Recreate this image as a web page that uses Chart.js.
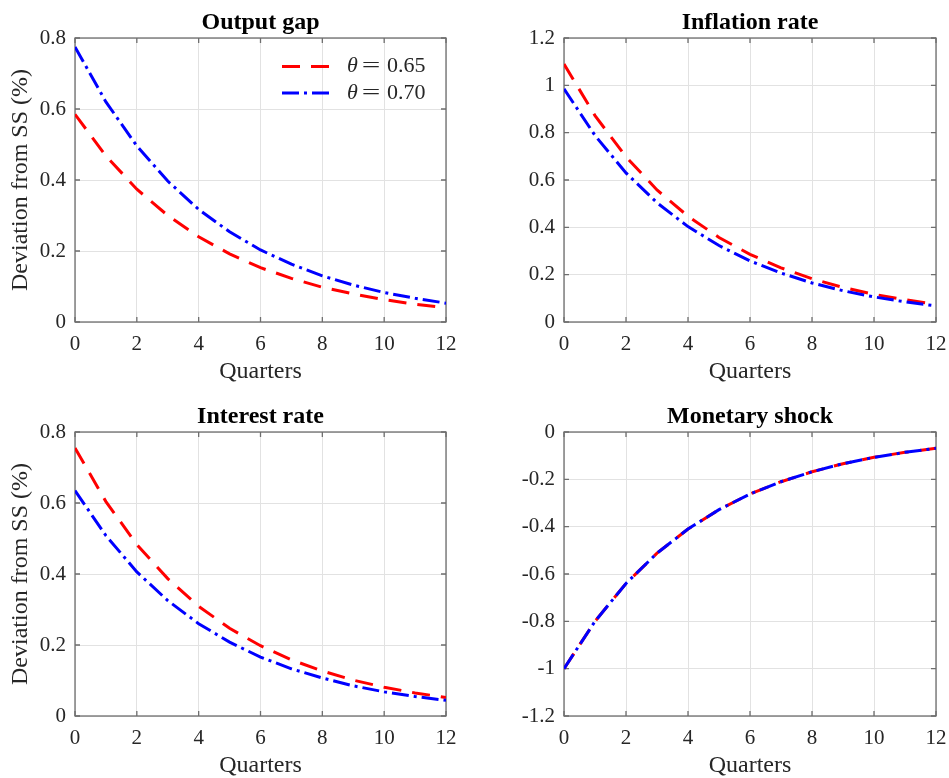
<!DOCTYPE html>
<html>
<head>
<meta charset="utf-8">
<script src="https://cdn.jsdelivr.net/npm/chart.js@4.4.1/dist/chart.umd.min.js"></script>
<style>
html,body{margin:0;padding:0;background:#fff;overflow:hidden;}
#wrap{position:relative;width:949px;height:778px;background:#fff;}
canvas{position:absolute;display:block;}
</style>
</head>
<body>
<div id="wrap">
<canvas id="c0"></canvas>
<canvas id="c1"></canvas>
<canvas id="c2"></canvas>
<canvas id="c3"></canvas>
</div>
<script>
// ---------------- data ----------------
const quarters = [0, 1, 2, 3, 4, 5, 6, 7, 8, 9, 10, 11, 12];
const seriesLabels = ['θ = 0.65', 'θ = 0.70'];
const panelTitles = ['Output gap', 'Inflation rate', 'Interest rate', 'Monetary shock'];
const yLabel = 'Deviation from SS (%)';
const xLabel = 'Quarters';

const outputGap065 = [0.585, 0.468, 0.374, 0.300, 0.240, 0.192, 0.153, 0.123, 0.098, 0.079, 0.063, 0.050, 0.040];
const outputGap070 = [0.775, 0.620, 0.496, 0.397, 0.317, 0.254, 0.203, 0.163, 0.130, 0.104, 0.083, 0.067, 0.053];
const inflation065 = [1.090, 0.872, 0.698, 0.558, 0.447, 0.357, 0.286, 0.229, 0.183, 0.146, 0.117, 0.094, 0.075];
const inflation070 = [0.985, 0.788, 0.630, 0.504, 0.403, 0.323, 0.258, 0.207, 0.165, 0.132, 0.106, 0.085, 0.068];
const interest065 = [0.755, 0.604, 0.483, 0.387, 0.309, 0.247, 0.198, 0.158, 0.127, 0.101, 0.081, 0.065, 0.052];
const interest070 = [0.635, 0.508, 0.406, 0.325, 0.260, 0.208, 0.166, 0.133, 0.107, 0.085, 0.068, 0.055, 0.044];
const shock065 = [-1.000, -0.800, -0.640, -0.512, -0.410, -0.328, -0.262, -0.210, -0.168, -0.134, -0.107, -0.086, -0.069];
const shock070 = [-1.000, -0.800, -0.640, -0.512, -0.410, -0.328, -0.262, -0.210, -0.168, -0.134, -0.107, -0.086, -0.069];

const xTicks = [0, 2, 4, 6, 8, 10, 12];
const yTicksOutput = [0, 0.2, 0.4, 0.6, 0.8];
const yTicksInflation = [0, 0.2, 0.4, 0.6, 0.8, 1, 1.2];
const yTicksInterest = [0, 0.2, 0.4, 0.6, 0.8];
const yTicksShock = [-1.2, -1, -0.8, -0.6, -0.4, -0.2, 0];

// ---------------- styling ----------------
const SERIF = '"Liberation Serif", "DejaVu Serif", serif';
const TEXT = '#262626';
const FRAME = '#6e6e6e';
const GRID = '#e2e2e2';
const RED = '#ff0000';
const BLUE = '#0000ff';

const framePlugin = {
  id: 'matlabFrame',
  beforeDatasetsDraw(chart) {
    const {ctx, chartArea: a, scales} = chart;
    ctx.save();
    ctx.strokeStyle = FRAME;
    ctx.lineWidth = 1.3;
    ctx.strokeRect(a.left, a.top, a.right - a.left, a.bottom - a.top);
    const tl = 5;
    ctx.beginPath();
    scales.x.ticks.forEach(t => {
      const p = scales.x.getPixelForValue(t.value);
      ctx.moveTo(p, a.bottom); ctx.lineTo(p, a.bottom - tl);
      ctx.moveTo(p, a.top); ctx.lineTo(p, a.top + tl);
    });
    scales.y.ticks.forEach(t => {
      const p = scales.y.getPixelForValue(t.value);
      ctx.moveTo(a.left, p); ctx.lineTo(a.left + tl, p);
      ctx.moveTo(a.right, p); ctx.lineTo(a.right - tl, p);
    });
    ctx.stroke();
    ctx.restore();
  }
};

const legendPlugin = {
  id: 'matlabLegend',
  afterDatasetsDraw(chart, args, opts) {
    if (!opts || !opts.show) return;
    const {ctx, chartArea: a} = chart;
    const rows = [28.5, 55];
    ctx.save();
    chart.data.datasets.forEach((ds, i) => {
      const y = a.top + rows[i];
      ctx.strokeStyle = ds.borderColor;
      ctx.lineWidth = ds.borderWidth;
      ctx.setLineDash(ds.borderDash || []);
      ctx.beginPath();
      ctx.moveTo(a.right - 164, y);
      ctx.lineTo(a.right - 113, y);
      ctx.stroke();
      ctx.setLineDash([]);
      const parts = ds.label.split(' ');
      const tx = a.right - 99;
      ctx.fillStyle = TEXT;
      ctx.textBaseline = 'middle';
      ctx.textAlign = 'left';
      ctx.font = 'italic 22px ' + SERIF;
      ctx.fillText(parts[0], tx, y);
      ctx.font = '22px ' + SERIF;
      ctx.save();
      ctx.translate(tx + 24, y);
      ctx.scale(1.5, 1);
      ctx.textAlign = 'center';
      ctx.fillText(parts[1], 0, 0);
      ctx.restore();
      ctx.textAlign = 'left';
      ctx.fillText(parts[2], tx + 40, y);
    });
    ctx.restore();
  }
};

function series(vals) {
  return quarters.map((q, i) => ({x: q, y: vals[i]}));
}

function fmt(v) {
  return String(Math.round(v * 10) / 10);
}

const panels = [
  {id: 'c0', title: panelTitles[0], a: outputGap065, b: outputGap070, yt: yTicksOutput, ylab: true, legend: true,
   box: {l: 0, t: 0, w: 475, h: 389}, plot: {l: 75, t: 38, r: 446, b: 322}, titleC: 23, xTitleC: 372},
  {id: 'c1', title: panelTitles[1], a: inflation065, b: inflation070, yt: yTicksInflation, ylab: false, legend: false,
   box: {l: 475, t: 0, w: 474, h: 389}, plot: {l: 564, t: 38, r: 936, b: 322}, titleC: 23, xTitleC: 372},
  {id: 'c2', title: panelTitles[2], a: interest065, b: interest070, yt: yTicksInterest, ylab: true, legend: false,
   box: {l: 0, t: 389, w: 475, h: 389}, plot: {l: 75, t: 432, r: 446, b: 716}, titleC: 417, xTitleC: 766},
  {id: 'c3', title: panelTitles[3], a: shock065, b: shock070, yt: yTicksShock, ylab: false, legend: false,
   box: {l: 475, t: 389, w: 474, h: 389}, plot: {l: 564, t: 432, r: 936, b: 716}, titleC: 417, xTitleC: 766}
];

panels.forEach(p => {
  const cv = document.getElementById(p.id);
  cv.style.left = p.box.l + 'px';
  cv.style.top = p.box.t + 'px';
  cv.style.width = p.box.w + 'px';
  cv.style.height = p.box.h + 'px';
  cv.width = p.box.w;
  cv.height = p.box.h;

  const yAxisW = p.plot.l - p.box.l;
  const xAxisH = p.box.t + p.box.h - p.plot.b;
  const padRight = p.box.l + p.box.w - p.plot.r;
  const titleBoxH = p.plot.t - p.box.t;
  const titlePadTop = p.titleC - p.box.t - 12;
  const titlePadBottom = titleBoxH - titlePadTop - 24;
  const xTitlePadBottom = (p.box.t + p.box.h) - p.xTitleC - 12;
  const ymin = Math.min(...p.yt), ymax = Math.max(...p.yt);

  new Chart(cv, {
    type: 'line',
    data: {
      datasets: [
        {label: seriesLabels[0], data: series(p.a), borderColor: RED, borderWidth: 3, borderDash: [18, 11],
         pointRadius: 0, tension: 0, fill: false, borderCapStyle: 'butt', order: 1},
        {label: seriesLabels[1], data: series(p.b), borderColor: BLUE, borderWidth: 3, borderDash: [17, 5, 3, 5],
         pointRadius: 0, tension: 0, fill: false, borderCapStyle: 'butt', order: 0}
      ]
    },
    options: {
      responsive: false,
      animation: false,
      devicePixelRatio: 1,
      layout: {padding: {left: 0, right: padRight, top: 0, bottom: 0}},
      plugins: {
        legend: {display: false},
        tooltip: {enabled: false},
        title: {
          display: true, text: p.title, fullSize: false, color: '#000',
          font: {family: SERIF, size: 24, weight: 'bold', lineHeight: 1},
          padding: {top: titlePadTop, bottom: titlePadBottom}
        },
        matlabLegend: {show: p.legend}
      },
      scales: {
        x: {
          type: 'linear', min: 0, max: 12,
          afterBuildTicks: s => { s.ticks = xTicks.map(v => ({value: v})); },
          afterFit: s => { s.height = xAxisH; s.paddingLeft = 0; s.paddingRight = 0; },
          grid: {color: GRID, lineWidth: 1, drawTicks: false},
          border: {display: false},
          ticks: {color: TEXT, font: {family: SERIF, size: 21}, padding: 10, maxRotation: 0, autoSkip: false,
                  callback: v => fmt(v)},
          title: {display: true, text: xLabel, color: TEXT, font: {family: SERIF, size: 24, lineHeight: 1},
                  padding: {top: 0, bottom: xTitlePadBottom}}
        },
        y: {
          type: 'linear', min: ymin, max: ymax,
          afterBuildTicks: s => { s.ticks = p.yt.map(v => ({value: v})); },
          afterFit: s => { s.width = yAxisW; s.paddingTop = 0; s.paddingBottom = 0; },
          grid: {color: GRID, lineWidth: 1, drawTicks: false},
          border: {display: false},
          ticks: {color: TEXT, font: {family: SERIF, size: 21}, padding: 9, autoSkip: false,
                  callback: v => fmt(v)},
          title: {display: p.ylab, text: yLabel, color: TEXT, font: {family: SERIF, size: 24, lineHeight: 1},
                  padding: {top: 9, bottom: 0}}
        }
      }
    },
    plugins: [framePlugin, legendPlugin]
  });
});
</script>
</body>
</html>
